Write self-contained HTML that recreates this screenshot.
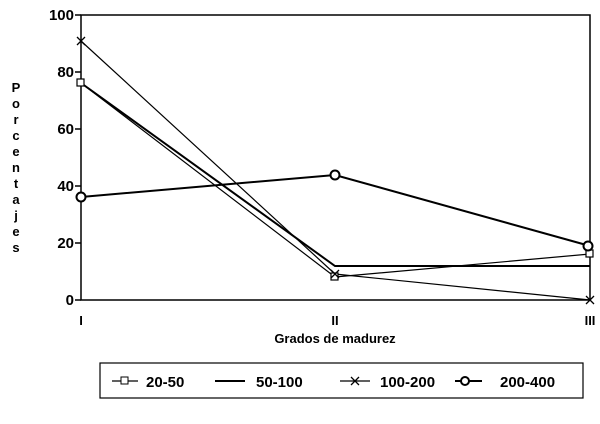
<!DOCTYPE html>
<html><head><style>body{margin:0;background:#fff}svg text{font-family:"Liberation Sans",sans-serif;font-weight:bold;fill:#000}</style></head>
<body><svg width="600" height="419" viewBox="0 0 600 419">
<rect x="81" y="15" width="509" height="285" fill="none" stroke="#000" stroke-width="1.5"/>
<g stroke="#000" stroke-width="1.5">
<line x1="75" y1="15" x2="81" y2="15"/><line x1="75" y1="72" x2="81" y2="72"/><line x1="75" y1="129" x2="81" y2="129"/><line x1="75" y1="186" x2="81" y2="186"/><line x1="75" y1="243" x2="81" y2="243"/><line x1="75" y1="300" x2="81" y2="300"/>
</g>
<g font-size="15" text-anchor="end">
<text x="74" y="20">100</text><text x="74" y="77">80</text><text x="74" y="134">60</text><text x="74" y="191">40</text><text x="74" y="248">20</text><text x="74" y="305">0</text>
</g>
<g font-size="13" text-anchor="middle">
<text x="81" y="325">I</text><text x="335" y="325">II</text><text x="590" y="325">III</text>
<text x="335" y="343">Grados de madurez</text>
</g>
<g font-size="13" text-anchor="middle">
<text x="16" y="92">P</text><text x="16" y="108">o</text><text x="16" y="124">r</text><text x="16" y="140">c</text><text x="16" y="156">e</text><text x="16" y="172">n</text><text x="16" y="188">t</text><text x="16" y="204">a</text><text x="16" y="220">j</text><text x="16" y="236">e</text><text x="16" y="252">s</text>
</g>
<g fill="none" stroke="#000">
<polyline points="81,83 335,277 590,254" stroke-width="1.2"/>
<polyline points="81,83 335,266 590,266" stroke-width="2"/>
<polyline points="81,41 335,274 590,300" stroke-width="1.2"/>
<polyline points="81,197 335,175 590,246" stroke-width="2"/>
<rect x="77" y="79" width="7" height="7" fill="#fff" stroke-width="1.2"/>
<rect x="331" y="273" width="7" height="7" fill="#fff" stroke-width="1.2"/>
<rect x="586" y="250" width="7" height="7" fill="#fff" stroke-width="1.2"/>
<path d="M77,37l8,8M85,37l-8,8M331,270l8,8M339,270l-8,8M586,296l8,8M594,296l-8,8" stroke-width="1.3"/>
<circle cx="81" cy="197" r="4.5" fill="#fff" stroke-width="2"/>
<circle cx="335" cy="175" r="4.5" fill="#fff" stroke-width="2"/>
<circle cx="588" cy="246" r="4.5" fill="#fff" stroke-width="2"/>
<rect x="100" y="363" width="483" height="35" stroke-width="1.2"/>
<line x1="112" y1="381" x2="138" y2="381" stroke-width="1.2"/><rect x="121" y="377" width="7" height="7" fill="#fff"/>
<line x1="215" y1="381" x2="245" y2="381" stroke-width="2"/>
<line x1="340" y1="381" x2="370" y2="381" stroke-width="1.2"/><path d="M351,377l8,8M359,377l-8,8" stroke-width="1.3"/>
<line x1="455" y1="381" x2="482" y2="381" stroke-width="2"/><circle cx="465" cy="381" r="4" fill="#fff" stroke-width="2"/>
</g>
<g font-size="15">
<text x="146" y="387">20-50</text><text x="256" y="387">50-100</text><text x="380" y="387">100-200</text><text x="500" y="387">200-400</text>
</g>
</svg></body></html>
